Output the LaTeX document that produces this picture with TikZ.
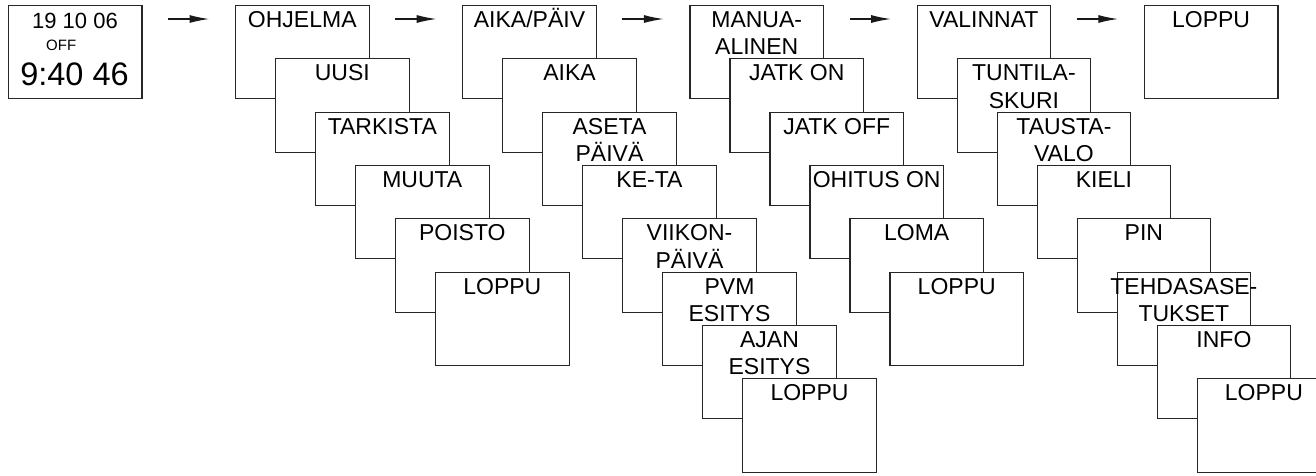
\documentclass[tikz,border=0pt]{standalone}
\usepackage{fontspec}
\setmainfont{Liberation Sans}
\usetikzlibrary{arrows.meta}
\newcommand\ml[1]{\begin{tabular}[t]{@{}c@{}}#1\end{tabular}}
\newcommand\drawmenu[4]{%
  \node[menubox] (#1) at (#2,#3) {};
  \node[menutext] (#1t) at ([yshift=-22pt]#1.north) {\ml{#4}};
}
\tikzset{
 menubox/.style={draw=black!85, line width=1.2pt, fill=white, minimum width=133.6pt,
   minimum height=93.3pt, inner sep=0pt, outer sep=0pt, anchor=north west},
 menutext/.style={anchor=base, inner sep=0pt, font=\fontsize{23}{27.3}\selectfont},
 nextarrow/.style={line width=1.4pt, black!90, -{Latex[length=20pt,width=8pt]}},
}
\begin{document}
\begin{tikzpicture}[x=1pt,y=-1pt]
\useasboundingbox (0,0) rectangle (1316,475);
\clip (0,0) rectangle (1316,475);

% clock display
\node[menubox] (clock) at (8.3,5.5) {};
\node[anchor=base, inner sep=0pt, font=\fontsize{22}{26}\selectfont] (date) at (75,28) {19 10 06};
\node[anchor=base west, inner sep=0pt, font=\fontsize{15}{18}\selectfont] (off) at (46,50) {OFF};
\node[anchor=base, inner sep=0pt, font=\fontsize{32.5}{38}\selectfont] (time) at (74.5,85) {9:40 46};

% column 0
\foreach \t [count=\i from 0] in {OHJELMA,UUSI,TARKISTA,MUUTA,POISTO,LOPPU}{
  \drawmenu{c0-\i}{235.5+40*\i}{5.5+53.33*\i}{\t}
}
% column 1
\foreach \t [count=\i from 0] in {AIKA/PÄIV,AIKA,{ASETA\\PÄIVÄ},KE-TA,{VIIKON-\\PÄIVÄ},{PVM\\ESITYS},{AJAN\\ESITYS},LOPPU}{
  \drawmenu{c1-\i}{462.7+40*\i}{5.5+53.33*\i}{\t}
}
% column 2
\foreach \t [count=\i from 0] in {{MANUA-\\ALINEN},JATK ON,JATK OFF,OHITUS ON,LOMA,LOPPU}{
  \drawmenu{c2-\i}{689.9+40*\i}{5.5+53.33*\i}{\t}
}
% column 3
\foreach \t [count=\i from 0] in {VALINNAT,{TUNTILA-\\SKURI},{TAUSTA-\\VALO},KIELI,PIN,{TEHDASASE-\\TUKSET},INFO,LOPPU}{
  \drawmenu{c3-\i}{917.1+40*\i}{5.5+53.33*\i}{\t}
}
% column 4
\drawmenu{c4-0}{1144.3}{5.5}{LOPPU}

% arrows
\coordinate (a0s) at ([shift={(26pt,-13.5pt)}]clock.north east);
\coordinate (a0e) at ([shift={(-26pt,-13.5pt)}]c0-0.north west);
\coordinate (a1s) at ([shift={(26pt,-13.5pt)}]c0-0.north east);
\coordinate (a1e) at ([shift={(-26pt,-13.5pt)}]c1-0.north west);
\coordinate (a2s) at ([shift={(26pt,-13.5pt)}]c1-0.north east);
\coordinate (a2e) at ([shift={(-26pt,-13.5pt)}]c2-0.north west);
\coordinate (a3s) at ([shift={(26pt,-13.5pt)}]c2-0.north east);
\coordinate (a3e) at ([shift={(-26pt,-13.5pt)}]c3-0.north west);
\coordinate (a4s) at ([shift={(26pt,-13.5pt)}]c3-0.north east);
\coordinate (a4e) at ([shift={(-26pt,-13.5pt)}]c4-0.north west);
\foreach \k in {0,...,4}{
  \draw[nextarrow] (a\k s) -- (a\k e);
}
\end{tikzpicture}
\end{document}
